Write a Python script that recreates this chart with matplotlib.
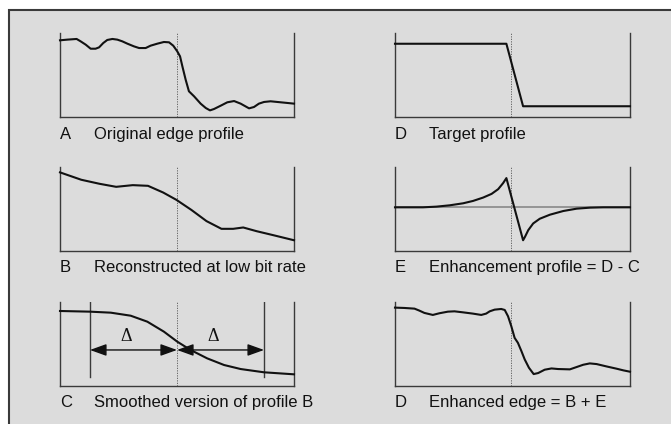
import matplotlib
matplotlib.use("Agg")
import matplotlib.pyplot as plt
from matplotlib.patches import Rectangle

plt.rcParams['font.family'] = ['Liberation Sans', 'DejaVu Sans']

# ---------------- data (x and y in % of panel) ----------------
a_x = [0, 3.1, 7.1, 8.8, 11.0, 13.1, 15.2, 16.7, 18.5, 20.2, 22.4, 24.5, 26.6, 28.8, 31.6,
       33.8, 36.6, 38.7, 41.6, 44.4, 46.6, 48.4, 50.1, 51.3, 52.3, 53.7, 55.1, 57.3, 60.1,
       62.3, 64.1, 65.8, 68.7, 71.5, 74.4, 77.2, 80.8, 82.9, 85.0, 87.2, 90.0, 94.3, 97.2, 100]
a_y = [91.3, 92.1, 92.9, 90.1, 86.1, 81.3, 81.3, 82.9, 88.1, 91.7, 92.9, 92.1, 90.1, 87.3, 84.1,
       82.1, 82.1, 84.9, 87.3, 89.3, 88.9, 84.9, 78.2, 72.2, 60.3, 44.4, 30.6, 24.6, 15.9,
       10.7, 7.9, 9.5, 13.5, 17.5, 19.0, 15.9, 10.3, 11.9, 15.9, 17.9, 18.7, 17.5, 16.7, 15.9]

b_x = [0, 9.1, 16.9, 24.0, 31.1, 37.6, 44.1, 49.8, 56.2, 62.6, 69.0, 74.0, 78.3, 84.0, 91.2, 100]
b_y = [93.6, 84.8, 80.0, 76.4, 78.4, 77.6, 69.6, 60.8, 48.8, 35.6, 26.4, 26.4, 28.0, 23.6, 18.8, 12.8]

c_x = [0, 12.8, 21.7, 30.2, 37.3, 44.4, 50.1, 55.8, 62.9, 70.1, 77.2, 87.2, 100]
c_y = [89.3, 88.5, 87.3, 83.7, 76.6, 64.7, 52.8, 42.9, 32.9, 25.0, 20.2, 16.3, 13.9]
c_delta_lo = 12.8
c_delta_hi = 87.2
c_centre = 50.0
c_arrow_y = 42.9

d_x = [0, 47.4, 54.5, 100]
d_y = [87.2, 87.2, 12.8, 12.8]

e_x = [0, 11.9, 17.6, 23.3, 29.0, 33.2, 37.5, 41.1, 43.9, 46.0, 47.4, 54.5, 55.3, 56.7,
       58.8, 61.6, 65.9, 71.6, 77.3, 83.0, 88.6, 100]
e_y = [52, 52, 52.8, 54.4, 56.8, 59.6, 63.6, 68.0, 73.6, 80.8, 86.8, 12.8, 16.8, 24.8,
       32.8, 38.4, 43.2, 47.6, 50.4, 51.6, 52, 52]
e_base = 52

f_x = [0, 4.0, 8.3, 10.4, 12.5, 16.1, 18.9, 22.5, 25.3, 28.9, 33.1, 36.7, 38.8, 40.3, 42.4,
       45.2, 46.7, 48.1, 49.5, 50.9, 52.3, 53.8, 55.2, 57.0, 59.0, 60.9, 63.7, 66.6, 69.4,
       74.4, 77.2, 80.1, 82.9, 85.8, 90.0, 94.3, 97.2, 100]
f_y = [93.3, 92.9, 92.1, 89.7, 87.0, 84.6, 86.6, 88.5, 88.9, 87.7, 86.2, 84.6, 86.2, 88.9, 90.9,
       91.7, 90.5, 83.0, 71.1, 57.3, 51.4, 41.5, 31.6, 21.7, 14.2, 15.4, 19.4, 20.9, 20.2,
       19.8, 22.5, 25.3, 26.9, 26.1, 23.3, 20.6, 18.6, 17.0]

letters = ["A", "D", "B", "E", "C", "D"]
captions = ["Original edge profile", "Target profile",
            "Reconstructed at low bit rate", "Enhancement profile = D - C",
            "Smoothed version of profile B", "Enhanced edge = B + E"]
midlines = [50, 49.3, 50, 49.3, 50, 49.3]

# ---------------- layout ----------------
W, H = 671, 424
fig = plt.figure(figsize=(W / 100, H / 100), dpi=100)
fig.patch.set_facecolor('white')

bg = Rectangle((9 / W, -0.05), 1.2, 1 - 10 / H + 0.05, transform=fig.transFigure,
               facecolor='#dcdcdc', edgecolor='#3a3a3a', linewidth=1.5, zorder=-10)
fig.patches.append(bg)

cols = [(60, 294), (395, 630)]
rows = [(33, 117), (167, 251), (302, 386)]
baselines = [139, 272, 407]

series = [(a_x, a_y), (d_x, d_y), (b_x, b_y), (e_x, e_y), (c_x, c_y), (f_x, f_y)]

for i, (xs, ys) in enumerate(series):
    r, c = divmod(i, 2)
    x0, x1 = cols[c]
    t, b = rows[r]
    ax = fig.add_axes([x0 / W, 1 - b / H, (x1 - x0) / W, (b - t) / H])
    ax.set_zorder(1)
    ax.patch.set_visible(False)
    ax.set_xlim(0, 100)
    ax.set_ylim(0, 100)
    ax.margins(0)
    ax.set_xticks([])
    ax.set_yticks([])
    ax.spines['top'].set_visible(False)
    for s in ['left', 'right', 'bottom']:
        ax.spines[s].set_color('#3a3a3a')
        ax.spines[s].set_linewidth(1.0)
    ax.axvline(midlines[i], color='#555555', lw=0.6, ls=(0, (1.5, 1.5)), zorder=1)
    if i == 3:
        ax.axhline(e_base, color='#888888', lw=1.2, zorder=1)
    ax.plot(xs, ys, color='#111111', lw=1.5, solid_joinstyle='round', zorder=3, clip_on=False)
    if i == 4:
        for xv in (c_delta_lo, c_delta_hi):
            ax.plot([xv, xv], [11, 100], color='#3a3a3a', lw=1.0, zorder=2)
        for xa, xb in ((c_delta_lo, c_centre), (c_centre, c_delta_hi)):
            ax.annotate('', xy=(xb, c_arrow_y), xytext=(xa, c_arrow_y),
                        arrowprops=dict(arrowstyle='<|-|>,head_length=0.5,head_width=0.18',
                                        color='#111111', lw=1.0,
                                        mutation_scale=20, shrinkA=0, shrinkB=0))
            ax.text((xa + xb) / 2 - 3, c_arrow_y + 6, 'Δ', ha='center', va='bottom',
                    fontsize=13, color='#111111', family=['Liberation Serif', 'DejaVu Serif'])
    fig.text(x0 / W, 1 - baselines[r] / H, letters[i], ha='left', va='baseline',
             fontsize=12, color='#111111')
    fig.text((x0 + 34) / W, 1 - baselines[r] / H, captions[i], ha='left', va='baseline',
             fontsize=12, color='#111111')

fig.savefig('out.png', dpi=100, facecolor=fig.get_facecolor())
